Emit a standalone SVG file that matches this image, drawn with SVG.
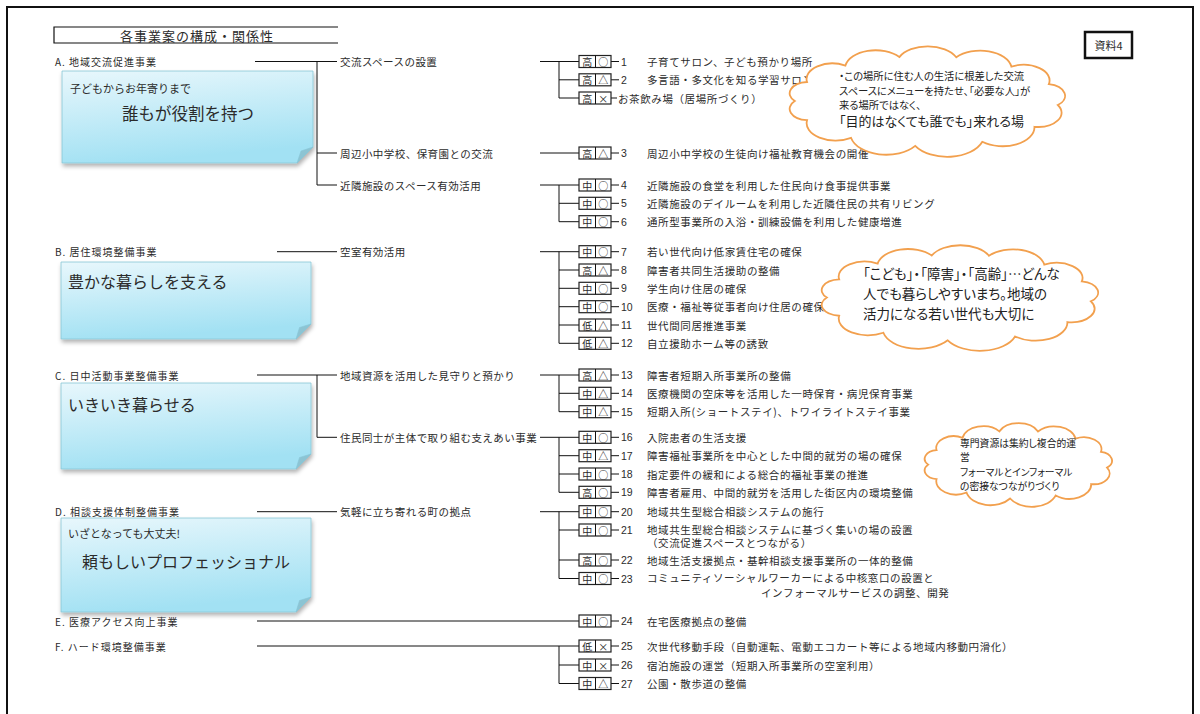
<svg xmlns="http://www.w3.org/2000/svg" width="1200" height="714" viewBox="0 0 1200 714">
<defs>
<linearGradient id="ng" x1="0" y1="0" x2="0.25" y2="1">
<stop offset="0" stop-color="#e8f7fc"/>
<stop offset="1" stop-color="#a2e1f3"/>
</linearGradient>
<filter id="sh" x="-5%" y="-5%" width="112%" height="130%">
<feDropShadow dx="1" dy="3" stdDeviation="2" flood-color="#000" flood-opacity="0.3"/>
</filter>
<path id="cloud" vector-effect="non-scaling-stroke" d="M6,30 A6.3,6.3 0 0 1 10.1,19.4 A8.6,8.6 0 0 1 22.9,10.3 A10.2,10.2 0 0 1 40.9,5.55 A10.5,10.5 0 0 1 59.9,5.65 A10.5,10.5 0 0 1 78.3,10.85 A8.7,8.7 0 0 1 90.8,20.6 A6.6,6.6 0 0 1 93.8,32.2 A7.9,7.9 0 0 1 86,44.3 A10.6,10.6 0 0 1 68.6,52.65 A12.4,12.4 0 0 1 46.2,54.9 A12,12 0 0 1 24.8,50.5 A9.7,9.7 0 0 1 10.1,40.6 A6.3,6.3 0 0 1 6,30 Z"/>
</defs>
<style>
.t{font-family:"Noto Sans CJK JP","Noto Sans CJK SC",sans-serif;fill:#2b2b2b;dominant-baseline:central}
.sec{font-size:10px;letter-spacing:1px}
.mid{font-size:10.5px;letter-spacing:0.45px}
.it{font-size:10.5px;letter-spacing:0.6px}
.num{font-family:"Liberation Sans",sans-serif;font-size:10.5px;fill:#2b2b2b;dominant-baseline:central}
.tg{font-size:10px;text-anchor:middle}
.tb{fill:#fff;stroke:#222;stroke-width:1.2}
.ln{stroke:#111;stroke-width:1;fill:none}
.cl{fill:#fff;stroke:#f2a04e;stroke-width:1.8}
.cw{font-feature-settings:"palt";fill:#222}
.nt{fill:url(#ng);stroke:#88c6d6;stroke-width:0.8}
.fold{fill:#8cc4d3;stroke:#88c6d6;stroke-width:0.6}
</style>
<rect width="1200" height="714" fill="#fff"/>
<path d="M7,714 V7 H1193 V714" fill="none" stroke="#111" stroke-width="2"/>

<g id="title">
<path d="M338,27 H54 V43 H338" fill="none" stroke="#111" stroke-width="1.2"/>
<text class="t" x="197" y="35" font-size="13" letter-spacing="1" text-anchor="middle">各事業案の構成・関係性</text>
</g>
<g id="shiryo">
<rect x="1085" y="32" width="47" height="26" fill="#fff" stroke="#111" stroke-width="2.5"/>
<text class="t" x="1108.5" y="45" font-size="11" text-anchor="middle">資料4</text>
</g>

<g id="connectors" class="ln">
<path d="M255,61.5 H337 M317,61.5 V185 M317,153 H337 M317,185 H337"/>
<path d="M540,61.5 H579 M559,61.5 V98 M559,79.8 H579 M559,98 H579"/>
<path d="M540,153 H579"/>
<path d="M540,185 H579 M559,185 V221.7 M559,203.3 H579 M559,221.7 H579"/>
<path d="M277,251.7 H337"/>
<path d="M540,251.7 H579 M559,251.7 V343.3 M559,270 H579 M559,288.3 H579 M559,306.7 H579 M559,325 H579 M559,343.3 H579"/>
<path d="M257,375 H337 M317,375 V437.3 M317,437.3 H337"/>
<path d="M540,375 H579 M559,375 V411.7 M559,393.3 H579 M559,411.7 H579"/>
<path d="M540,437.3 H579 M559,437.3 V492.3 M559,455.7 H579 M559,474 H579 M559,492.3 H579"/>
<path d="M257,511.7 H337"/>
<path d="M540,511.7 H579 M559,511.7 V578.5 M559,530 H579 M559,560 H579 M559,578.5 H579"/>
<path d="M257,621 H579"/>
<path d="M257,646 H579 M559,646 V683.5 M559,665 H579 M559,683.5 H579"/>
<path d="M611,61.5 H619 M611,79.8 H619 M611,98 H617 M611,153 H619 M611,185 H619 M611,203.3 H619 M611,221.7 H619 M611,251.7 H619 M611,270 H619 M611,288.3 H619 M611,306.7 H619 M611,325 H619 M611,343.3 H619 M611,375 H619 M611,393.3 H619 M611,411.7 H619 M611,437.3 H619 M611,455.7 H619 M611,474 H619 M611,492.3 H619 M611,511.7 H619 M611,530 H619 M611,560 H619 M611,578.5 H619 M611,621 H619 M611,646 H619 M611,665 H619 M611,683.5 H619"/>
</g>

<g id="notes">
<g id="note-A" filter="url(#sh)">
<path class="nt" d="M62,71 H313 V147 L297,163 H62 Z"/>
<path class="fold" d="M313,147 L297,163 L301,151 Z"/>
</g>
<text class="t" x="70" y="88" font-size="11">子どもからお年寄りまで</text>
<text class="t" x="122" y="113" font-size="16.5">誰もが役割を持つ</text>
<g id="note-B" filter="url(#sh)">
<path class="nt" d="M61,262 H311 V324 L296,339 H61 Z"/>
<path class="fold" d="M311,324 L296,339 L299.5,327.5 Z"/>
</g>
<text class="t" x="68" y="281" font-size="16">豊かな暮らしを支える</text>
<g id="note-C" filter="url(#sh)">
<path class="nt" d="M61,383 H311 V454 L296,469 H61 Z"/>
<path class="fold" d="M311,454 L296,469 L299.5,457.5 Z"/>
</g>
<text class="t" x="68" y="404" font-size="16">いきいき暮らせる</text>
<g id="note-D" filter="url(#sh)">
<path class="nt" d="M61,518 H311 V597 L296,612 H61 Z"/>
<path class="fold" d="M311,597 L296,612 L299.5,600.5 Z"/>
</g>
<text class="t" x="68" y="533" font-size="11">いざとなっても大丈夫!</text>
<text class="t" x="82" y="561" font-size="16">頼もしいプロフェッショナル</text>
</g>

<g id="sections">
<text id="sec-A" class="t sec" x="55" y="61.5">A. 地域交流促進事業</text>
<text id="sec-B" class="t sec" x="55" y="251.7">B. 居住環境整備事業</text>
<text id="sec-C" class="t sec" x="55" y="375">C. 日中活動事業整備事業</text>
<text id="sec-D" class="t sec" x="55" y="511.7">D. 相談支援体制整備事業</text>
<text id="sec-E" class="t sec" x="55" y="621">E. 医療アクセス向上事業</text>
<text id="sec-F" class="t sec" x="55" y="646">F. ハード環境整備事業</text>
</g>

<g id="subs">
<text id="sub-a1" class="t mid" x="340" y="61.5">交流スペースの設置</text>
<text id="sub-a2" class="t mid" x="340" y="153">周辺小中学校、保育園との交流</text>
<text id="sub-a3" class="t mid" x="340" y="185">近隣施設のスペース有効活用</text>
<text id="sub-b1" class="t mid" x="340" y="251.7">空室有効活用</text>
<text id="sub-c1" class="t mid" x="340" y="375">地域資源を活用した見守りと預かり</text>
<text id="sub-c2" class="t mid" x="340" y="437.3">住民同士が主体で取り組む支えあい事業</text>
<text id="sub-d1" class="t mid" x="340" y="511.7">気軽に立ち寄れる町の拠点</text>
</g>

<g id="items">
<g id="item-1"><rect class="tb" x="579" y="55.5" width="32" height="12"/><line class="ln" x1="595.5" y1="55.5" x2="595.5" y2="67.5"/><text class="t tg" x="587.3" y="61.5">高</text><text class="t tg" x="603.3" y="61.5">○</text><text class="num" x="621" y="61.5">1</text><text class="t it" x="647" y="61.5">子育てサロン、子ども預かり場所</text></g>
<g id="item-2"><rect class="tb" x="579" y="73.8" width="32" height="12"/><line class="ln" x1="595.5" y1="73.8" x2="595.5" y2="85.8"/><text class="t tg" x="587.3" y="79.8">高</text><text class="t tg" x="603.3" y="79.8">△</text><text class="num" x="621" y="79.8">2</text><text class="t it" x="647" y="79.8">多言語・多文化を知る学習サロン</text></g>
<g id="item-ocha"><rect class="tb" x="579" y="92" width="32" height="12"/><line class="ln" x1="595.5" y1="92" x2="595.5" y2="104"/><text class="t tg" x="587.3" y="98">高</text><text class="t tg" x="603.3" y="98">×</text><text class="t it" x="618" y="98">お茶飲み場（居場所づくり）</text></g>
<g id="item-3"><rect class="tb" x="579" y="147" width="32" height="12"/><line class="ln" x1="595.5" y1="147" x2="595.5" y2="159"/><text class="t tg" x="587.3" y="153">高</text><text class="t tg" x="603.3" y="153">△</text><text class="num" x="621" y="153">3</text><text class="t it" x="647" y="153">周辺小中学校の生徒向け福祉教育機会の開催</text></g>
<g id="item-4"><rect class="tb" x="579" y="179" width="32" height="12"/><line class="ln" x1="595.5" y1="179" x2="595.5" y2="191"/><text class="t tg" x="587.3" y="185">中</text><text class="t tg" x="603.3" y="185">○</text><text class="num" x="621" y="185">4</text><text class="t it" x="647" y="185">近隣施設の食堂を利用した住民向け食事提供事業</text></g>
<g id="item-5"><rect class="tb" x="579" y="197.3" width="32" height="12"/><line class="ln" x1="595.5" y1="197.3" x2="595.5" y2="209.3"/><text class="t tg" x="587.3" y="203.3">中</text><text class="t tg" x="603.3" y="203.3">○</text><text class="num" x="621" y="203.3">5</text><text class="t it" x="647" y="203.3">近隣施設のデイルームを利用した近隣住民の共有リビング</text></g>
<g id="item-6"><rect class="tb" x="579" y="215.7" width="32" height="12"/><line class="ln" x1="595.5" y1="215.7" x2="595.5" y2="227.7"/><text class="t tg" x="587.3" y="221.7">中</text><text class="t tg" x="603.3" y="221.7">○</text><text class="num" x="621" y="221.7">6</text><text class="t it" x="647" y="221.7">通所型事業所の入浴・訓練設備を利用した健康増進</text></g>
<g id="item-7"><rect class="tb" x="579" y="245.7" width="32" height="12"/><line class="ln" x1="595.5" y1="245.7" x2="595.5" y2="257.7"/><text class="t tg" x="587.3" y="251.7">中</text><text class="t tg" x="603.3" y="251.7">○</text><text class="num" x="621" y="251.7">7</text><text class="t it" x="647" y="251.7">若い世代向け低家賃住宅の確保</text></g>
<g id="item-8"><rect class="tb" x="579" y="264" width="32" height="12"/><line class="ln" x1="595.5" y1="264" x2="595.5" y2="276"/><text class="t tg" x="587.3" y="270">高</text><text class="t tg" x="603.3" y="270">△</text><text class="num" x="621" y="270">8</text><text class="t it" x="647" y="270">障害者共同生活援助の整備</text></g>
<g id="item-9"><rect class="tb" x="579" y="282.3" width="32" height="12"/><line class="ln" x1="595.5" y1="282.3" x2="595.5" y2="294.3"/><text class="t tg" x="587.3" y="288.3">中</text><text class="t tg" x="603.3" y="288.3">○</text><text class="num" x="621" y="288.3">9</text><text class="t it" x="647" y="288.3">学生向け住居の確保</text></g>
<g id="item-10"><rect class="tb" x="579" y="300.7" width="32" height="12"/><line class="ln" x1="595.5" y1="300.7" x2="595.5" y2="312.7"/><text class="t tg" x="587.3" y="306.7">中</text><text class="t tg" x="603.3" y="306.7">○</text><text class="num" x="621" y="306.7">10</text><text class="t it" x="647" y="306.7">医療・福祉等従事者向け住居の確保</text></g>
<g id="item-11"><rect class="tb" x="579" y="319" width="32" height="12"/><line class="ln" x1="595.5" y1="319" x2="595.5" y2="331"/><text class="t tg" x="587.3" y="325">低</text><text class="t tg" x="603.3" y="325">△</text><text class="num" x="621" y="325">11</text><text class="t it" x="647" y="325">世代間同居推進事業</text></g>
<g id="item-12"><rect class="tb" x="579" y="337.3" width="32" height="12"/><line class="ln" x1="595.5" y1="337.3" x2="595.5" y2="349.3"/><text class="t tg" x="587.3" y="343.3">低</text><text class="t tg" x="603.3" y="343.3">△</text><text class="num" x="621" y="343.3">12</text><text class="t it" x="647" y="343.3">自立援助ホーム等の誘致</text></g>
<g id="item-13"><rect class="tb" x="579" y="369" width="32" height="12"/><line class="ln" x1="595.5" y1="369" x2="595.5" y2="381"/><text class="t tg" x="587.3" y="375">高</text><text class="t tg" x="603.3" y="375">△</text><text class="num" x="621" y="375">13</text><text class="t it" x="647" y="375">障害者短期入所事業所の整備</text></g>
<g id="item-14"><rect class="tb" x="579" y="387.3" width="32" height="12"/><line class="ln" x1="595.5" y1="387.3" x2="595.5" y2="399.3"/><text class="t tg" x="587.3" y="393.3">中</text><text class="t tg" x="603.3" y="393.3">△</text><text class="num" x="621" y="393.3">14</text><text class="t it" x="647" y="393.3">医療機関の空床等を活用した一時保育・病児保育事業</text></g>
<g id="item-15"><rect class="tb" x="579" y="405.7" width="32" height="12"/><line class="ln" x1="595.5" y1="405.7" x2="595.5" y2="417.7"/><text class="t tg" x="587.3" y="411.7">中</text><text class="t tg" x="603.3" y="411.7">△</text><text class="num" x="621" y="411.7">15</text><text class="t it" x="647" y="411.7">短期入所(ショートステイ)、トワイライトステイ事業</text></g>
<g id="item-16"><rect class="tb" x="579" y="431.3" width="32" height="12"/><line class="ln" x1="595.5" y1="431.3" x2="595.5" y2="443.3"/><text class="t tg" x="587.3" y="437.3">中</text><text class="t tg" x="603.3" y="437.3">○</text><text class="num" x="621" y="437.3">16</text><text class="t it" x="647" y="437.3">入院患者の生活支援</text></g>
<g id="item-17"><rect class="tb" x="579" y="449.7" width="32" height="12"/><line class="ln" x1="595.5" y1="449.7" x2="595.5" y2="461.7"/><text class="t tg" x="587.3" y="455.7">中</text><text class="t tg" x="603.3" y="455.7">△</text><text class="num" x="621" y="455.7">17</text><text class="t it" x="647" y="455.7">障害福祉事業所を中心とした中間的就労の場の確保</text></g>
<g id="item-18"><rect class="tb" x="579" y="468" width="32" height="12"/><line class="ln" x1="595.5" y1="468" x2="595.5" y2="480"/><text class="t tg" x="587.3" y="474">中</text><text class="t tg" x="603.3" y="474">○</text><text class="num" x="621" y="474">18</text><text class="t it" x="647" y="474">指定要件の緩和による総合的福祉事業の推進</text></g>
<g id="item-19"><rect class="tb" x="579" y="486.3" width="32" height="12"/><line class="ln" x1="595.5" y1="486.3" x2="595.5" y2="498.3"/><text class="t tg" x="587.3" y="492.3">高</text><text class="t tg" x="603.3" y="492.3">○</text><text class="num" x="621" y="492.3">19</text><text class="t it" x="647" y="492.3">障害者雇用、中間的就労を活用した街区内の環境整備</text></g>
<g id="item-20"><rect class="tb" x="579" y="505.7" width="32" height="12"/><line class="ln" x1="595.5" y1="505.7" x2="595.5" y2="517.7"/><text class="t tg" x="587.3" y="511.7">中</text><text class="t tg" x="603.3" y="511.7">○</text><text class="num" x="621" y="511.7">20</text><text class="t it" x="647" y="511.7">地域共生型総合相談システムの施行</text></g>
<g id="item-21"><rect class="tb" x="579" y="524" width="32" height="12"/><line class="ln" x1="595.5" y1="524" x2="595.5" y2="536"/><text class="t tg" x="587.3" y="530">中</text><text class="t tg" x="603.3" y="530">○</text><text class="num" x="621" y="530">21</text><text class="t it" x="647" y="529">地域共生型総合相談システムに基づく集いの場の設置</text><text class="t it" x="647" y="542.5">（交流促進スペースとつながる）</text></g>
<g id="item-22"><rect class="tb" x="579" y="554" width="32" height="12"/><line class="ln" x1="595.5" y1="554" x2="595.5" y2="566"/><text class="t tg" x="587.3" y="560">高</text><text class="t tg" x="603.3" y="560">○</text><text class="num" x="621" y="560">22</text><text class="t it" x="647" y="560">地域生活支援拠点・基幹相談支援事業所の一体的整備</text></g>
<g id="item-23"><rect class="tb" x="579" y="572.5" width="32" height="12"/><line class="ln" x1="595.5" y1="572.5" x2="595.5" y2="584.5"/><text class="t tg" x="587.3" y="578.5">中</text><text class="t tg" x="603.3" y="578.5">○</text><text class="num" x="621" y="578.5">23</text><text class="t it" x="647" y="577.5">コミュニティソーシャルワーカーによる中核窓口の設置と</text><text class="t it" x="761" y="592">インフォーマルサービスの調整、開発</text></g>
<g id="item-24"><rect class="tb" x="579" y="615" width="32" height="12"/><line class="ln" x1="595.5" y1="615" x2="595.5" y2="627"/><text class="t tg" x="587.3" y="621">中</text><text class="t tg" x="603.3" y="621">○</text><text class="num" x="621" y="621">24</text><text class="t it" x="647" y="621">在宅医療拠点の整備</text></g>
<g id="item-25"><rect class="tb" x="579" y="640" width="32" height="12"/><line class="ln" x1="595.5" y1="640" x2="595.5" y2="652"/><text class="t tg" x="587.3" y="646">低</text><text class="t tg" x="603.3" y="646">×</text><text class="num" x="621" y="646">25</text><text class="t it" x="647" y="646">次世代移動手段（自動運転、電動エコカート等による地域内移動円滑化）</text></g>
<g id="item-26"><rect class="tb" x="579" y="659" width="32" height="12"/><line class="ln" x1="595.5" y1="659" x2="595.5" y2="671"/><text class="t tg" x="587.3" y="665">中</text><text class="t tg" x="603.3" y="665">×</text><text class="num" x="621" y="665">26</text><text class="t it" x="647" y="665">宿泊施設の運営（短期入所事業所の空室利用）</text></g>
<g id="item-27"><rect class="tb" x="579" y="677.5" width="32" height="12"/><line class="ln" x1="595.5" y1="677.5" x2="595.5" y2="689.5"/><text class="t tg" x="587.3" y="683.5">中</text><text class="t tg" x="603.3" y="683.5">△</text><text class="num" x="621" y="683.5">27</text><text class="t it" x="647" y="683.5">公園・散歩道の整備</text></g>
</g>

<g id="cloud-1">
<use href="#cloud" class="cl" transform="translate(776.8,47.1) scale(2.996,1.799)"/>
<text class="t cw" x="839" y="75" font-size="10.3">・この場所に住む人の生活に根差した交流</text>
<text class="t cw" x="839" y="90" font-size="10.3">スペースにメニューを持たせ、「必要な人」が</text>
<text class="t cw" x="839" y="104.5" font-size="10.3">来る場所ではなく、</text>
<text class="t cw" x="839" y="120" font-size="13">「目的はなくても誰でも」来れる場</text>
</g>
<g id="cloud-2">
<use href="#cloud" class="cl" transform="translate(808.8,246) scale(3.007,1.718)"/>
<text class="t cw" x="863" y="273" font-size="13.5">「こども」・「障害」・「高齢」…どんな</text>
<text class="t cw" x="863" y="293" font-size="13.5">人でも暮らしやすいまち。地域の</text>
<text class="t cw" x="863" y="313" font-size="13.5">活力になる若い世代も大切に</text>
</g>
<g id="cloud-3">
<use href="#cloud" class="cl" transform="translate(916,423.8) scale(2.037,1.361)"/>
<text class="t cw" x="960" y="443" font-size="9.8">専門資源は集約し複合的運</text>
<text class="t cw" x="960" y="457" font-size="9.8">営</text>
<text class="t cw" x="960" y="472" font-size="9.8">フォーマルとインフォーマル</text>
<text class="t cw" x="960" y="486" font-size="9.8">の密接なつながりづくり</text>
</g>
</svg>
